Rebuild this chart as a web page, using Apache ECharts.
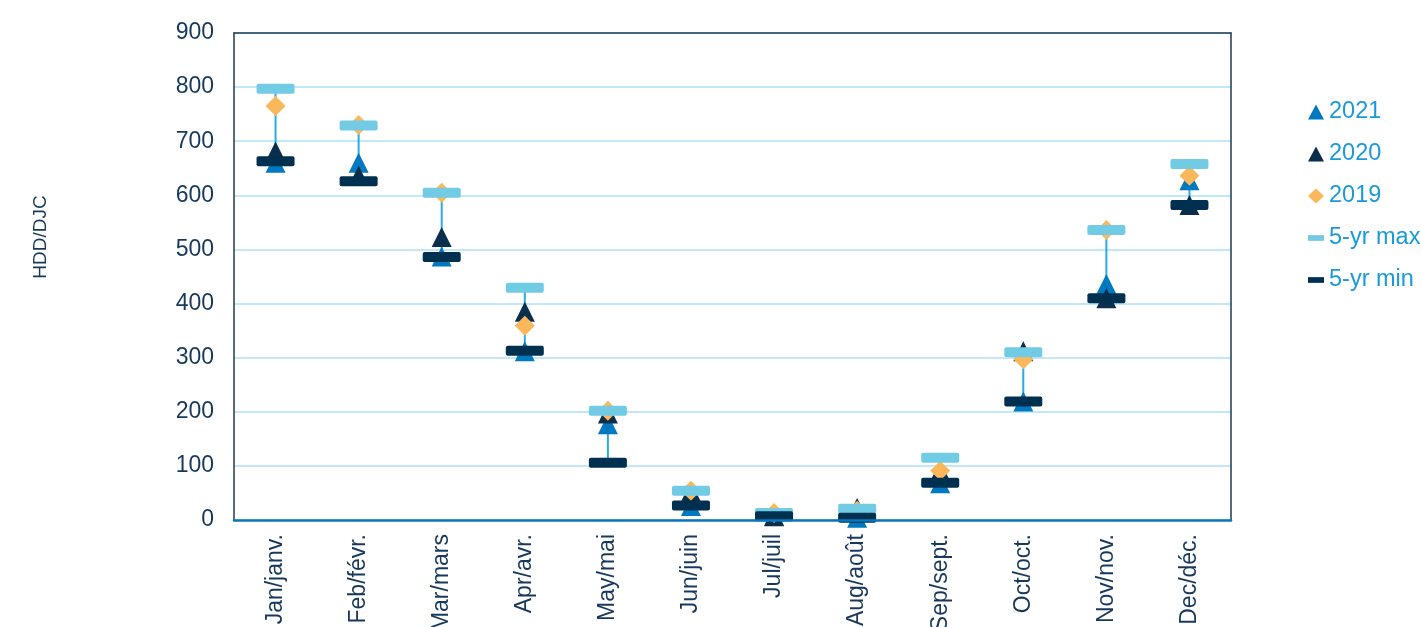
<!DOCTYPE html>
<html>
<head>
<meta charset="utf-8">
<script src="https://cdn.jsdelivr.net/npm/echarts@6/dist/echarts.min.js"></script>
<style>
  html, body { margin: 0; padding: 0; background: #fff; }
  #chart { width: 1421px; height: 627px; }
</style>
</head>
<body>
<div id="chart"></div>
<script>
// months
var months = ['Jan/janv.', 'Feb/févr.', 'Mar/mars', 'Apr/avr.', 'May/mai', 'Jun/juin',
  'Jul/juil', 'Aug/août', 'Sep/sept.', 'Oct/oct.', 'Nov/nov.', 'Dec/déc.'];
var hdd2021 = [660, 660, 487, 312, 177, 26, 8, 4, 68, 219, 436, 628];
var hdd2020 = [681, 636, 523, 385, 197, 52, 7, 22, 90, 312, 410, 582];
var hdd2019 = [765, 730, 605, 359, 202, 54, 13, 17, 91, 297, 536, 636];
var max5yr = [797, 729, 605, 429, 202, 54, 13, 21, 115, 310, 536, 658];
var min5yr = [663, 626, 486, 313, 106, 27, 7, 4, 69, 219, 410, 582];

var navy = '#17385a';
var frame = '#1e3a56';
var barIcon = 'path://M0,0h14v5h-14z';
// flat bar with small rounded corners
var barSymbol = 'path://M2,0h34a2,2 0 0 1 2,2v6a2,2 0 0 1 -2,2h-34a2,2 0 0 1 -2,-2v-6a2,2 0 0 1 2,-2z';

var chart = echarts.init(document.getElementById('chart'));

var rangeData = months.map(function (m, i) { return [i, min5yr[i], max5yr[i]]; });

chart.setOption({
  animation: false,
  textStyle: { fontFamily: 'Liberation Sans, Arial, sans-serif' },
  grid: {
    left: 234, right: 190, top: 33, bottom: 107,
    outerBoundsMode: 'none',
    containLabel: false
  },
  legend: {
    orient: 'vertical',
    left: 1308,
    top: 100,
    padding: 0,
    itemWidth: 16,
    itemHeight: 15,
    itemGap: 18,
    selectedMode: false,
    textStyle: { color: '#1a9ad9', fontSize: 23.5, lineHeight: 24 },
    data: [
      { name: '2021', icon: 'triangle' },
      { name: '2020', icon: 'triangle' },
      { name: '2019', icon: 'diamond' },
      { name: '5-yr max', icon: barIcon },
      { name: '5-yr min', icon: barIcon }
    ]
  },
  graphic: [{
    type: 'text',
    x: 41, y: 237,
    rotation: Math.PI / 2,
    style: {
      text: 'HDD/DJC',
      fill: navy,
      font: '19px "Liberation Sans", Arial, sans-serif',
      align: 'center',
      verticalAlign: 'middle'
    }
  }],
  xAxis: [
    {
      type: 'category',
      data: months,
      z: 5,
      axisLine: { onZero: false, lineStyle: { color: '#0a76bd', width: 2.5 } },
      axisTick: { show: false },
      axisLabel: { rotate: 90, color: navy, fontSize: 23, margin: 14 },
      splitLine: { show: false }
    },
    {
      type: 'category',
      data: months,
      position: 'top',
      z: 5,
      axisLine: { onZero: false, lineStyle: { color: frame, width: 1.5 } },
      axisTick: { show: false },
      axisLabel: { show: false },
      splitLine: { show: false }
    }
  ],
  yAxis: [
    {
      type: 'value',
      min: 0, max: 900, interval: 100,
      axisLine: { show: true, onZero: false, lineStyle: { color: frame, width: 1.5 } },
      axisTick: { show: false },
      axisLabel: { color: navy, fontSize: 23, margin: 20 },
      splitLine: { lineStyle: { color: '#c3e8f8', width: 2 } }
    },
    {
      type: 'value',
      min: 0, max: 900, interval: 100,
      position: 'right',
      z: 5,
      axisLine: { show: true, onZero: false, lineStyle: { color: frame, width: 1.5 } },
      axisTick: { show: false },
      axisLabel: { show: false },
      splitLine: { show: false }
    }
  ],
  series: [
    {
      name: 'range',
      type: 'custom',
      data: rangeData,
      silent: true,
      renderItem: function (params, api) {
        var p1 = api.coord([api.value(0), api.value(1)]);
        var p2 = api.coord([api.value(0), api.value(2)]);
        return {
          type: 'line',
          shape: { x1: p1[0], y1: p1[1], x2: p2[0], y2: p2[1] },
          style: { stroke: '#29abe6', lineWidth: 2 }
        };
      }
    },
    {
      name: '2021', type: 'scatter', data: hdd2021,
      symbol: 'triangle', symbolSize: [20, 20],
      itemStyle: { color: '#0079c1', opacity: 1 }
    },
    {
      name: '2020', type: 'scatter', data: hdd2020,
      symbol: 'triangle', symbolSize: [20, 20],
      itemStyle: { color: '#0b2e4c', opacity: 1 }
    },
    {
      name: '2019', type: 'scatter', data: hdd2019,
      symbol: 'diamond', symbolSize: [20, 20],
      itemStyle: { color: '#fbb85a', opacity: 1 }
    },
    {
      name: '5-yr max', type: 'scatter', data: max5yr,
      symbol: barSymbol, symbolSize: [38, 10],
      itemStyle: { color: '#72cbe4', opacity: 1 }
    },
    {
      name: '5-yr min', type: 'scatter', data: min5yr,
      symbol: barSymbol, symbolSize: [38, 10],
      itemStyle: { color: '#00304f', opacity: 1 }
    }
  ]
});
</script>
</body>
</html>
